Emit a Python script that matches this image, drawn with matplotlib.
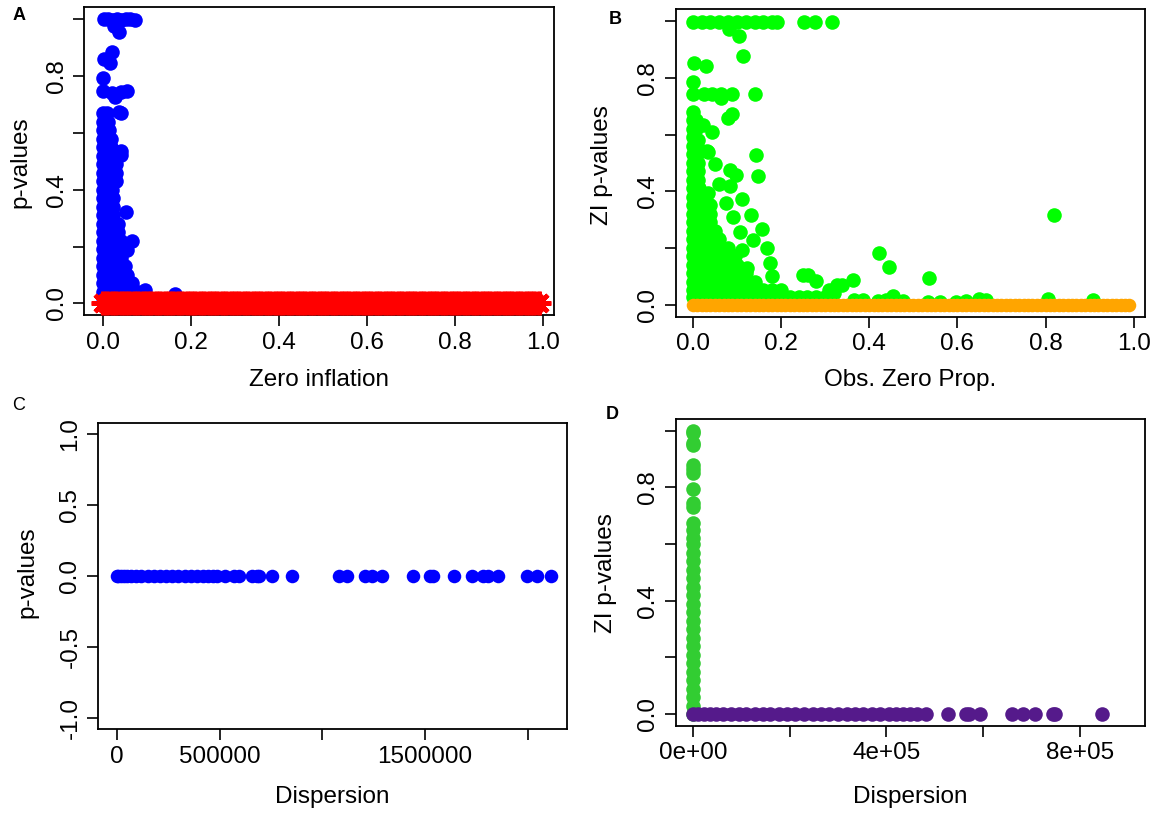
import numpy as np
import matplotlib.pyplot as plt

plt.rcParams['font.family'] = ['Liberation Sans', 'DejaVu Sans']

# ---- data ----
# dense band of observed zero proportions (panels A and B, p-value ~ 0)
zero_prop_dense = [
    0.00, 0.01, 0.02, 0.03, 0.04, 0.05, 0.06, 0.07, 0.08, 0.09,
    0.10, 0.11, 0.12, 0.13, 0.14, 0.15, 0.16, 0.17, 0.18, 0.19,
    0.20, 0.21, 0.22, 0.23, 0.24, 0.25, 0.26, 0.27, 0.28, 0.29,
    0.30, 0.31, 0.32, 0.33, 0.34, 0.35, 0.36, 0.37, 0.38, 0.39,
    0.40, 0.41, 0.42, 0.43, 0.44, 0.45, 0.46, 0.47, 0.48, 0.49,
    0.50, 0.51, 0.52, 0.53, 0.54, 0.55, 0.56, 0.57, 0.58, 0.59,
    0.60, 0.61, 0.62, 0.63, 0.64, 0.65, 0.66, 0.67, 0.68, 0.69,
    0.70, 0.71, 0.72, 0.73, 0.74, 0.75, 0.76, 0.77, 0.78, 0.79,
    0.80, 0.81, 0.82, 0.83, 0.84, 0.85, 0.86, 0.87, 0.88, 0.89,
    0.90, 0.91, 0.92, 0.93, 0.94, 0.95, 0.96, 0.97, 0.98, 0.99,
]

# panel A, blue: (zero inflation, p-value)
a_blue_loose = [
    (0.002, 1.0), (0.012, 1.0), (0.022, 0.998), (0.032, 1.0), (0.042, 0.997),
    (0.052, 1.0), (0.062, 1.0), (0.072, 0.999),
    (0.026, 0.975), (0.036, 0.954), (0.020, 0.886), (0.003, 0.859), (0.016, 0.847),
    (0.0, 0.792), (0.0, 0.749), (0.020, 0.741), (0.027, 0.725), (0.041, 0.745),
    (0.054, 0.749), (0.036, 0.674), (0.042, 0.670), (0.042, 0.535), (0.042, 0.523),
    (0.052, 0.320), (0.065, 0.220), (0.055, 0.187), (0.096, 0.046), (0.164, 0.034),
]
# dense core of panel A, rows of (p-value, [zero inflation ...])
a_blue_core = [
    (0.67, [0.0, 0.010]),
    (0.64, [0.0, 0.012]),
    (0.61, [0.0, 0.015]),
    (0.58, [0.0, 0.018]),
    (0.55, [0.0, 0.018]),
    (0.52, [0.0, 0.020]),
    (0.49, [0.0, 0.020, 0.030]),
    (0.46, [0.0, 0.020, 0.030]),
    (0.43, [0.0, 0.020, 0.030]),
    (0.40, [0.0, 0.020]),
    (0.37, [0.0, 0.022]),
    (0.34, [0.0, 0.022]),
    (0.31, [0.0, 0.022]),
    (0.28, [0.0, 0.020, 0.035]),
    (0.25, [0.0, 0.020, 0.035]),
    (0.22, [0.0, 0.020, 0.040]),
    (0.19, [0.0, 0.020, 0.040]),
    (0.16, [0.0, 0.020, 0.040]),
    (0.13, [0.0, 0.020, 0.040, 0.050]),
    (0.10, [0.0, 0.020, 0.040, 0.055]),
    (0.07, [0.0, 0.020, 0.040, 0.060, 0.065]),
    (0.04, [0.0, 0.020, 0.040, 0.060, 0.080]),
    (0.02, [0.0, 0.020, 0.040, 0.060]),
]

# panel B, green: (obs. zero prop., ZI p-value)
b_green_loose = [
    (0.0, 0.996), (0.02, 0.996), (0.04, 0.996), (0.06, 0.996), (0.08, 0.996),
    (0.10, 0.996), (0.12, 0.996), (0.14, 0.996), (0.16, 0.996), (0.18, 0.996),
    (0.19, 0.996), (0.252, 0.996), (0.276, 0.996), (0.315, 0.996),
    (0.083, 0.973), (0.104, 0.947), (0.113, 0.877), (0.002, 0.854), (0.031, 0.842),
    (0.0, 0.786), (0.0, 0.743), (0.025, 0.743), (0.044, 0.743), (0.065, 0.743),
    (0.065, 0.730), (0.089, 0.743), (0.141, 0.743), (0.088, 0.673), (0.080, 0.660),
    (0.023, 0.632), (0.044, 0.608), (0.011, 0.579), (0.032, 0.541), (0.143, 0.529),
    (0.147, 0.453), (0.034, 0.538), (0.050, 0.497), (0.084, 0.474), (0.099, 0.456),
    (0.059, 0.427), (0.084, 0.418), (0.111, 0.374), (0.075, 0.357), (0.034, 0.392),
    (0.133, 0.316), (0.091, 0.310), (0.156, 0.266), (0.137, 0.228), (0.107, 0.257),
    (0.168, 0.199), (0.111, 0.193), (0.175, 0.146), (0.122, 0.129), (0.179, 0.099),
    (0.251, 0.105), (0.262, 0.104), (0.280, 0.082), (0.309, 0.053), (0.328, 0.070),
    (0.423, 0.181), (0.446, 0.134), (0.536, 0.094), (0.818, 0.316), (0.364, 0.088),
    (0.339, 0.070), (0.320, 0.041),
    (0.366, 0.015), (0.385, 0.015), (0.419, 0.012), (0.439, 0.015), (0.454, 0.030),
    (0.477, 0.012), (0.534, 0.010), (0.561, 0.010), (0.596, 0.010), (0.619, 0.012),
    (0.650, 0.020), (0.664, 0.015), (0.805, 0.020), (0.907, 0.015),
]
b_green_core = [
    (0.68, [0.0]),
    (0.65, [0.0, 0.008]),
    (0.62, [0.0, 0.008]),
    (0.59, [0.0]),
    (0.56, [0.0, 0.010]),
    (0.53, [0.0, 0.010]),
    (0.50, [0.0, 0.012]),
    (0.47, [0.0, 0.012]),
    (0.44, [0.0, 0.012]),
    (0.41, [0.0, 0.015]),
    (0.38, [0.0, 0.020]),
    (0.35, [0.0, 0.020, 0.040]),
    (0.32, [0.0, 0.020, 0.040]),
    (0.29, [0.0, 0.020, 0.040]),
    (0.26, [0.0, 0.020, 0.040, 0.050]),
    (0.23, [0.0, 0.020, 0.040, 0.060]),
    (0.20, [0.0, 0.020, 0.040, 0.060, 0.080]),
    (0.17, [0.0, 0.020, 0.040, 0.060, 0.080, 0.095]),
    (0.14, [0.0, 0.020, 0.040, 0.060, 0.080, 0.100]),
    (0.11, [0.0, 0.020, 0.040, 0.060, 0.080, 0.100, 0.120]),
    (0.08, [0.0, 0.020, 0.040, 0.060, 0.080, 0.100, 0.120, 0.140]),
    (0.05, [0.0, 0.020, 0.040, 0.060, 0.080, 0.100, 0.120, 0.140, 0.160, 0.180, 0.200]),
    (0.025, [0.0, 0.020, 0.040, 0.060, 0.080, 0.100, 0.120, 0.140, 0.160, 0.180,
             0.200, 0.220, 0.240, 0.260, 0.280, 0.300]),
]

# panel C: dispersion (all p-values are 0)
c_dispersion = [
    0, 8e3, 20e3, 35e3, 50e3, 70e3, 95e3, 120e3, 150e3, 180e3, 210e3, 240e3,
    270e3, 300e3, 330e3, 360e3, 390e3, 420e3, 445e3, 468e3, 486e3, 526e3,
    571e3, 595e3, 658e3, 680e3, 694e3, 757e3, 852e3, 1081e3, 1121e3, 1207e3,
    1243e3, 1292e3, 1441e3, 1523e3, 1537e3, 1640e3, 1726e3, 1784e3, 1807e3,
    1856e3, 1996e3, 2045e3, 2112e3,
]

# panel D: dispersion with ZI p-value 0 (purple), and near-zero dispersion column (green)
d_purple_dispersion = [
    0, 10e3, 22e3, 35e3, 48e3, 62e3, 78e3, 95e3, 110e3, 128e3, 145e3, 160e3,
    178e3, 195e3, 212e3, 230e3, 248e3, 265e3, 282e3, 300e3, 318e3, 335e3,
    352e3, 370e3, 388e3, 405e3, 420e3, 435e3, 450e3, 464e3, 483e3, 528e3,
    564e3, 571e3, 594e3, 660e3, 683e3, 708e3, 744e3, 750e3, 846e3,
]
d_green_pvalues = [
    1.0, 0.99, 0.957, 0.95, 0.88, 0.865, 0.85, 0.795, 0.745, 0.73, 0.675,
    0.65, 0.62, 0.60, 0.57, 0.54, 0.51, 0.48, 0.45, 0.42, 0.39, 0.36, 0.33,
    0.30, 0.27, 0.24, 0.21, 0.18, 0.15, 0.12, 0.09, 0.06, 0.03, 0.0,
]
d_green_dispersion = [
    0, 0, 0, 0, 0, 0, 0, 0, 0, 0, 0, 0, 0, 0, 0, 0, 0,
    0, 0, 0, 0, 0, 0, 0, 0, 0, 0, 0, 0, 0, 0, 0, 0, 0,
]


def flatten(loose, core):
    xs = [p[0] for p in loose]
    ys = [p[1] for p in loose]
    for yv, row in core:
        xs += row
        ys += [yv] * len(row)
    return xs, ys


W, H = 1159, 815
fig = plt.figure(figsize=(W / 100, H / 100), dpi=100)


def box(left, top, right, bottom):
    # axes placed by pixel box
    return fig.add_axes([left / W, 1 - bottom / H, (right - left) / W, (bottom - top) / H])


def r_style(ax, xticks, xlabels, yticks, ylabels, xlim, ylim):
    ax.set_xlim(*xlim)
    ax.set_ylim(*ylim)
    ax.set_xticks(xticks, xlabels)
    ax.set_yticks(yticks, ylabels)
    ax.tick_params(length=8, width=1.2, labelsize=17.5, pad=4, colors='black')
    for lbl in ax.get_yticklabels():
        lbl.set_rotation(90)
        lbl.set_va('center')
    for sp in ax.spines.values():
        sp.set_linewidth(1.3)


p_ticks = [0, 0.2, 0.4, 0.6, 0.8, 1.0]
p_labels = ['0.0', '', '0.4', '', '0.8', '']
prop_labels = ['0.0', '0.2', '0.4', '0.6', '0.8', '1.0']
dot = 110

# A
ax = box(84.4, 7.3, 553.7, 315)
bx, by = flatten(a_blue_loose, a_blue_core)
ax.scatter(bx, by, s=dot, color='#0000FF', linewidths=0, zorder=2)
ax.plot(zero_prop_dense, np.zeros(len(zero_prop_dense)), linestyle='none',
        marker=(8, 2, 0), markersize=17, mew=3.2, color='#FF0000', zorder=3)
r_style(ax, p_ticks, prop_labels, p_ticks, p_labels, (-0.042, 1.024), (-0.041, 1.042))
ax.set_xlabel('Zero inflation', fontsize=17.5, va='center')
ax.xaxis.set_label_coords(0.5, -0.211)
ax.set_ylabel('p-values', fontsize=17.5, va='center')
ax.yaxis.set_label_coords(-0.136, 0.496)

# B
ax = box(675.6, 9, 1144.8, 316.7)
gx, gy = flatten(b_green_loose, b_green_core)
ax.scatter(gx, gy, s=dot, color='#00FF00', linewidths=0, zorder=2)
ax.scatter(zero_prop_dense, np.zeros(len(zero_prop_dense)), s=95, color='#FFA500',
           linewidths=0, zorder=3)
r_style(ax, p_ticks, prop_labels, p_ticks, p_labels, (-0.039, 1.025), (-0.043, 1.043))
ax.set_xlabel('Obs. Zero Prop.', fontsize=17.5, va='center')
ax.xaxis.set_label_coords(0.5, -0.206)
ax.set_ylabel('ZI p-values', fontsize=17.5, va='center')
ax.yaxis.set_label_coords(-0.157, 0.493)

# C
ax = box(98.1, 422.7, 566.7, 729.3)
ax.scatter(c_dispersion, np.zeros(len(c_dispersion)), s=95, color='#0000FF', linewidths=0)
r_style(ax, [0, 500000, 1000000, 1500000, 2000000], ['0', '500000', '', '1500000', ''],
        [-1.0, -0.5, 0.0, 0.5, 1.0], ['-1.0', '-0.5', '0.0', '0.5', '1.0'],
        (-90500, 2188700), (-1.08, 1.08))
ax.set_xlabel('Dispersion', fontsize=17.5, va='center')
ax.xaxis.set_label_coords(0.5, -0.22)
ax.set_ylabel('p-values', fontsize=17.5, va='center')
ax.yaxis.set_label_coords(-0.15, 0.511)

# D
ax = box(675.6, 419, 1144.8, 725.7)
ax.scatter(d_green_dispersion, d_green_pvalues, s=dot, color='#32CD32', linewidths=0, zorder=2)
ax.scatter(d_purple_dispersion, np.zeros(len(d_purple_dispersion)), s=dot, color='#551A8B',
           linewidths=0, zorder=3)
r_style(ax, [0, 200000, 400000, 600000, 800000], ['0e+00', '', '4e+05', '', '8e+05'],
        p_ticks, p_labels, (-36000, 935000), (-0.041, 1.041))
ax.set_xlabel('Dispersion', fontsize=17.5, va='center')
ax.xaxis.set_label_coords(0.5, -0.231)
ax.set_ylabel('ZI p-values', fontsize=17.5, va='center')
ax.yaxis.set_label_coords(-0.148, 0.4985)

# panel letters
for letter, x, y, weight in [('A', 19, 16, 'bold'), ('B', 615, 20, 'bold'),
                             ('C', 19, 406, 'normal'), ('D', 612, 415, 'bold')]:
    fig.text(x / W, 1 - y / H, letter, fontsize=13, fontweight=weight, ha='center', va='center')

fig.savefig('out.png', dpi=100)
